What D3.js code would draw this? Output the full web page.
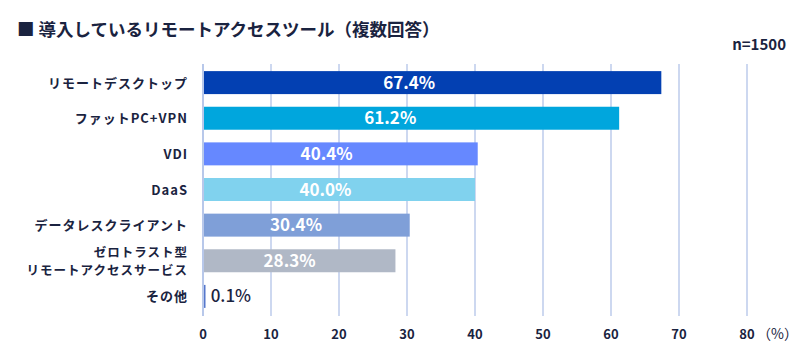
<!DOCTYPE html>
<html><head><meta charset="utf-8">
<script src="https://cdn.jsdelivr.net/npm/d3@7"></script>
<style>
body{margin:0;background:#fff;}
text{font-family:"Noto Sans CJK JP","Noto Sans",sans-serif;}
</style></head>
<body><svg id="c" width="800" height="360"></svg>
<script>
const categories = ["リモートデスクトップ","ファットPC+VPN","VDI","DaaS","データレスクライアント","ゼロトラスト型\nリモートアクセスサービス","その他"];
const values = [67.4, 61.2, 40.4, 40.0, 30.4, 28.3, 0.1];
const colors = ["#0340B2","#00A6DD","#6688FF","#80D2EE","#7F9FD8","#B0B8C6","#5577CC"];
const ticks = [0,10,20,30,40,50,60,70,80];
const title = "■ 導入しているリモートアクセスツール（複数回答）";
const note = "n=1500";
const ink = "#1a2340";

const svg = d3.select("#c");
const x = d3.scaleLinear().domain([0,80]).range([203,747]);
const y = d3.scaleBand().domain(categories).range([64.7,314.3]).paddingInner(0.355).paddingOuter(0.18);

svg.append("text").attr("x",17).attr("y",36).attr("font-size",17.5).attr("font-weight",700).attr("fill",ink).text(title);
svg.append("text").attr("x",786).attr("y",50).attr("text-anchor","end").attr("font-size",15).attr("font-weight",700).attr("fill",ink).text(note);

svg.append("g").selectAll("line").data(ticks).join("line")
  .attr("x1",d=>x(d)).attr("x2",d=>x(d)).attr("y1",64).attr("y2",316)
  .attr("stroke",d=>d===0?"#b8c8ea":"#cdd8f0").attr("stroke-width",2);

svg.append("g").selectAll("rect").data(values).join("rect")
  .attr("x",x(0)+1).attr("y",(d,i)=>y(categories[i]))
  .attr("width",d=>Math.max(x(d)-x(0)-1,1.5)).attr("height",y.bandwidth())
  .attr("fill",(d,i)=>colors[i]);

svg.append("g").selectAll("text").data(values).join("text")
  .attr("x",d=>d<5?x(d)+7:x(d*0.45))
  .attr("y",(d,i)=>y(categories[i])+y.bandwidth()/2+6)
  .attr("text-anchor",d=>d<5?"start":"middle")
  .attr("font-size",17).attr("font-weight",d=>d<5?500:700)
  .attr("fill",d=>d<5?ink:"#fff")
  .text(d=>d.toFixed(1)+"%");

const lab = svg.append("g");
categories.forEach((c,i)=>{
  const lines = c.split("\n");
  const cy = y(c)+y.bandwidth()/2;
  const fs = lines.length>1 ? 12.5 : 13;
  const t = lab.append("text").attr("text-anchor","end").attr("font-size",fs).attr("font-weight",700)
      .attr("letter-spacing",1).attr("fill",ink);
  lines.forEach((l,j)=>{
    t.append("tspan").attr("x",188).attr("y",cy+5+(j-(lines.length-1)/2)*18.4).text(l);
  });
});

svg.append("g").selectAll("text").data(ticks).join("text")
  .attr("x",d=>x(d)).attr("y",339).attr("text-anchor","middle")
  .attr("font-size",13).attr("font-weight",700).attr("fill",ink).text(d=>d);
svg.append("text").attr("x",x(80)+10).attr("y",339).attr("font-size",14).attr("fill",ink).text("（%）");
</script></body></html>
